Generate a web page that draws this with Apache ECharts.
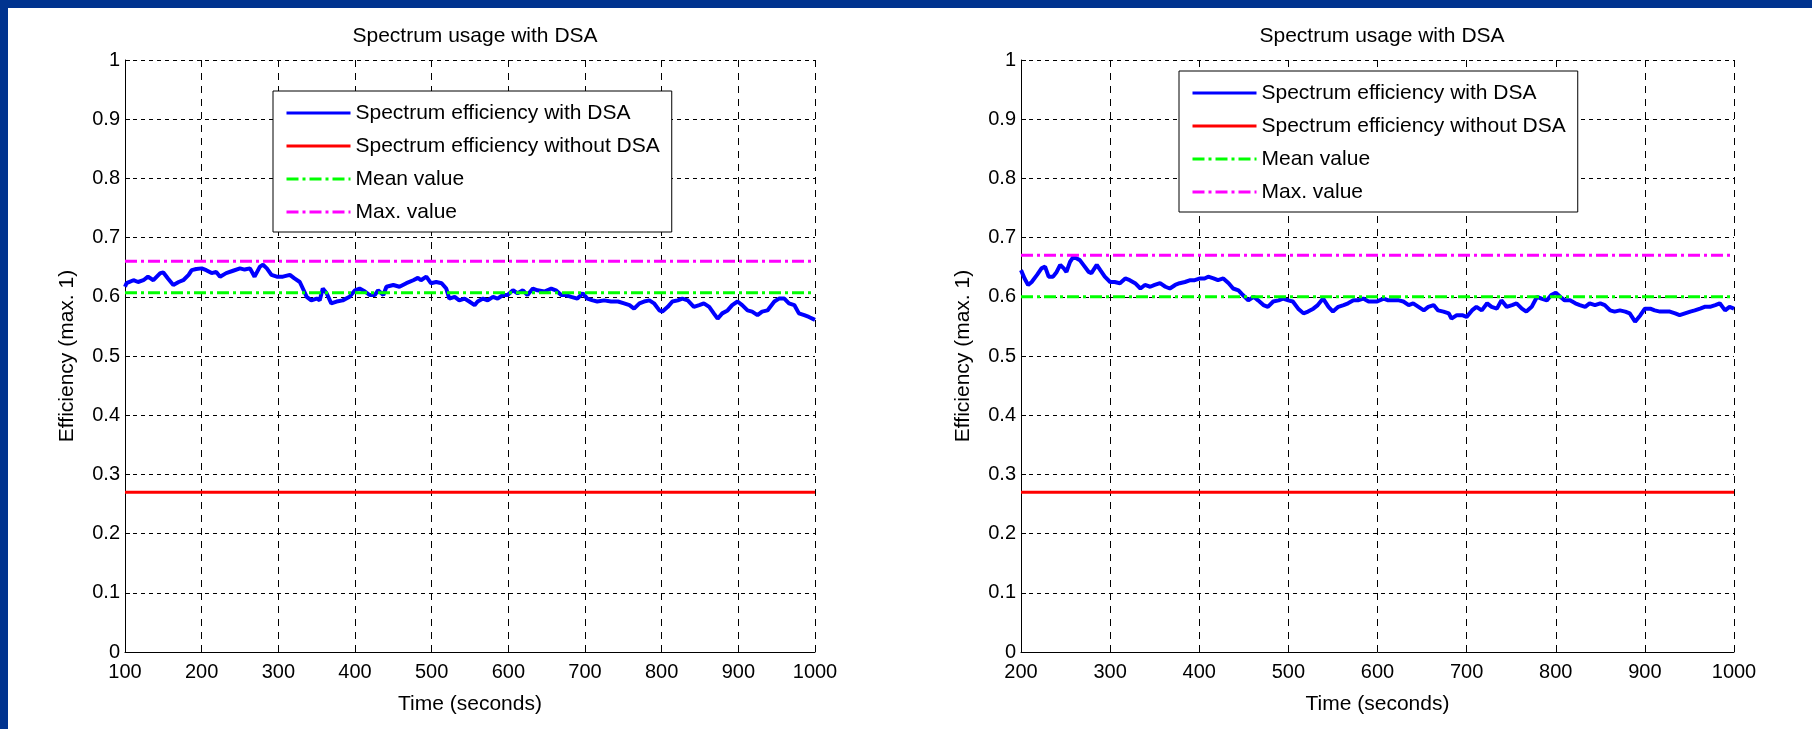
<!DOCTYPE html>
<html>
<head>
<meta charset="utf-8">
<script src="https://cdn.jsdelivr.net/npm/echarts@6/dist/echarts.min.js"></script>
<style>
  html, body { margin: 0; padding: 0; background: #00338f; }
  #chart { position: absolute; left: 8px; top: 8px; width: 1804px; height: 721px; background: #fff; }
</style>
</head>
<body>
<div id="chart"></div>
<script>
// left plot: time (s) and efficiency with DSA
const timeLeft = [100,102,111,117,124,130,137,146,150,156,163,170,176,183,187,193,200,206,213,219,224,232,241,250,256,263,269,276,280,285,291,298,306,315,321,328,332,337,343,350,354,358,363,369,376,384,393,400,406,413,419,426,430,437,441,450,458,467,476,482,486,493,499,506,513,519,523,530,536,
  543,549,556,560,567,573,580,586,593,599,606,612,619,625,632,638,647,656,662,669,675,682,690,697,703,710,716,725,734,743,751,758,764,771,777,784,790,797,801,808,814,821,827,834,842,849,855,862,868,873,879,886,892,899,905,912,918,925,931,938,947,953,960,966,973,979,986,992,1000];
const effLeft = [0.617,0.623,0.628,0.625,0.628,0.634,0.628,0.640,0.641,0.631,0.620,0.625,0.628,0.637,0.645,0.647,0.648,0.645,0.640,0.642,0.634,0.640,0.644,0.648,0.646,0.648,0.634,0.651,0.654,0.648,0.637,0.634,0.634,0.637,0.631,0.625,0.614,0.600,0.594,0.597,0.594,0.614,0.606,0.589,0.592,0.594,0.600,0.611,0.614,0.609,0.603,0.603,0.611,0.603,0.617,0.620,0.617,0.623,0.628,0.632,0.628,0.634,0.623,0.625,0.623,0.614,0.597,0.600,0.594,
  0.597,0.592,0.586,0.592,0.597,0.594,0.600,0.597,0.603,0.603,0.611,0.606,0.611,0.603,0.614,0.611,0.609,0.614,0.611,0.603,0.603,0.600,0.597,0.606,0.597,0.594,0.592,0.594,0.592,0.592,0.589,0.586,0.580,0.589,0.592,0.594,0.589,0.577,0.575,0.583,0.592,0.594,0.597,0.594,0.583,0.586,0.589,0.583,0.572,0.563,0.572,0.577,0.586,0.592,0.586,0.577,0.575,0.569,0.575,0.577,0.592,0.597,0.597,0.589,0.586,0.572,0.569,0.566,0.561];

// right plot
const timeRight = [200,204,208,212,218,223,227,231,236,240,244,248,251,255,259,262,266,270,276,279,285,289,294,300,305,311,317,322,328,334,339,345,350,356,362,367,373,378,384,390,395,401,406,410,416,421,427,433,438,444,449,455,461,466,472,477,483,489,494,500,505,511,517,522,528,533,539,545,550,556,562,567,573,578,584,590,599,
  601,607,612,618,624,629,635,640,646,652,657,663,668,674,680,683,689,695,700,706,711,717,723,728,734,739,745,751,756,762,767,773,779,784,790,795,800,805,810,816,822,827,833,838,844,850,855,861,866,872,878,883,889,895,900,906,911,917,923,928,934,939,945,951,956,962,967,973,979,984,990,995,1000];
const effRight = [0.645,0.631,0.620,0.625,0.637,0.648,0.651,0.634,0.634,0.642,0.654,0.648,0.642,0.659,0.668,0.665,0.662,0.654,0.642,0.640,0.654,0.645,0.634,0.625,0.625,0.623,0.631,0.628,0.623,0.614,0.620,0.617,0.620,0.623,0.617,0.614,0.620,0.623,0.625,0.628,0.628,0.631,0.631,0.634,0.631,0.628,0.631,0.623,0.614,0.611,0.603,0.594,0.600,0.594,0.586,0.583,0.592,0.594,0.597,0.594,0.592,0.580,0.572,0.575,0.580,0.586,0.597,0.583,0.575,0.583,0.586,0.589,0.594,0.594,0.597,0.592,0.592,
  0.594,0.597,0.594,0.594,0.594,0.592,0.586,0.589,0.583,0.577,0.583,0.586,0.577,0.575,0.572,0.563,0.569,0.569,0.566,0.577,0.583,0.577,0.589,0.583,0.580,0.594,0.583,0.586,0.589,0.580,0.575,0.583,0.600,0.597,0.594,0.603,0.607,0.600,0.594,0.594,0.589,0.586,0.583,0.589,0.586,0.589,0.586,0.577,0.575,0.577,0.575,0.572,0.558,0.569,0.580,0.580,0.577,0.575,0.575,0.575,0.572,0.569,0.572,0.575,0.577,0.580,0.583,0.583,0.586,0.589,0.577,0.583,0.580];

// constant levels
const rangeLeft = [100, 1000];
const rangeRight = [200, 1000];
const noDsaLeft = 0.27, meanLeft = 0.607, maxLeft = 0.66;
const noDsaRight = 0.27, meanRight = 0.600, maxRight = 0.67;

const names = ['Spectrum efficiency with DSA', 'Spectrum efficiency without DSA', 'Mean value', 'Max. value'];
const titleText = 'Spectrum usage with DSA';

const FONT = "'Liberation Sans', Arial, sans-serif";
const FS = 21;      // titles, names, legend
const FS_TICK = 20; // tick labels
const dashDot = [12, 4, 3, 4];

const pair = (xs, ys) => xs.map((x, i) => [x, ys[i]]);
const flat = (range, v) => [[range[0], v], [range[1], v]];

function xAxisOf(idx, range) {
  return {
    type: 'value', gridIndex: idx, min: range[0], max: range[1], interval: 100,
    name: 'Time (seconds)', nameLocation: 'middle', nameGap: 42,
    nameTextStyle: { fontFamily: FONT, fontSize: FS, color: '#000' },
    axisLine: { show: true, lineStyle: { color: '#000', width: 1 } },
    axisTick: { inside: true, length: 5, lineStyle: { color: '#000' } },
    axisLabel: { fontFamily: FONT, fontSize: FS_TICK, color: '#000', margin: 10, formatter: v => String(v) },
    splitLine: { show: true, lineStyle: { color: '#000', type: [7, 6], width: 1 } }
  };
}
function yAxisOf(idx) {
  return {
    type: 'value', gridIndex: idx, min: 0, max: 1, interval: 0.1,
    name: 'Efficiency (max. 1)', nameLocation: 'middle', nameRotate: 90, nameGap: 47,
    nameTextStyle: { fontFamily: FONT, fontSize: FS, color: '#000' },
    axisLine: { show: true, lineStyle: { color: '#000', width: 1 } },
    axisTick: { inside: true, length: 5, lineStyle: { color: '#000' } },
    axisLabel: { fontFamily: FONT, fontSize: FS_TICK, color: '#000', margin: 5 },
    splitLine: { show: true, lineStyle: { color: '#000', type: [4, 4], width: 1 } }
  };
}
function seriesOf(idx, xs, ys, range, noDsa, mean, max) {
  const base = { type: 'line', xAxisIndex: idx, yAxisIndex: idx, symbol: 'none', showSymbol: false };
  return [
    Object.assign({}, base, { name: names[0], data: pair(xs, ys), color: '#0000ff', lineStyle: { width: 4, color: '#0000ff' } }),
    Object.assign({}, base, { name: names[1], data: flat(range, noDsa), color: '#ff0000', lineStyle: { width: 3, color: '#ff0000' } }),
    Object.assign({}, base, { name: names[2], data: flat(range, mean), color: '#00ff00', lineStyle: { width: 3, color: '#00ff00', type: dashDot } }),
    Object.assign({}, base, { name: names[3], data: flat(range, max), color: '#ff00ff', lineStyle: { width: 3, color: '#ff00ff', type: dashDot } })
  ];
}
function legendOf(left, top) {
  return {
    data: names, orient: 'vertical', left: left, top: top,
    itemWidth: 64, itemHeight: 14, itemGap: 11,
    padding: [11, 12, 9, 12],
    backgroundColor: '#fff', borderColor: '#000', borderWidth: 1,
    itemStyle: { opacity: 0 },
    lineStyle: { width: 3 },
    textStyle: { fontFamily: FONT, fontSize: FS, color: '#000', lineHeight: 22 },
    selectedMode: false
  };
}

const option = {
  animation: false,
  backgroundColor: '#fff',
  title: [
    { text: titleText, left: 462, top: 13, textAlign: 'center', textStyle: { fontFamily: FONT, fontSize: FS, fontWeight: 'normal', color: '#000' } },
    { text: titleText, left: 1369, top: 13, textAlign: 'center', textStyle: { fontFamily: FONT, fontSize: FS, fontWeight: 'normal', color: '#000' } }
  ],
  legend: [legendOf(265, 83), legendOf(1171, 63)],
  grid: [
    { left: 117, top: 52, width: 690, height: 592 },
    { left: 1013, top: 52, width: 713, height: 592 }
  ],
  xAxis: [xAxisOf(0, rangeLeft), xAxisOf(1, rangeRight)],
  yAxis: [yAxisOf(0), yAxisOf(1)],
  series: seriesOf(0, timeLeft, effLeft, rangeLeft, noDsaLeft, meanLeft, maxLeft)
    .concat(seriesOf(1, timeRight, effRight, rangeRight, noDsaRight, meanRight, maxRight))
};

const myChart = echarts.init(document.getElementById('chart'));
myChart.setOption(option);
</script>
</body>
</html>
